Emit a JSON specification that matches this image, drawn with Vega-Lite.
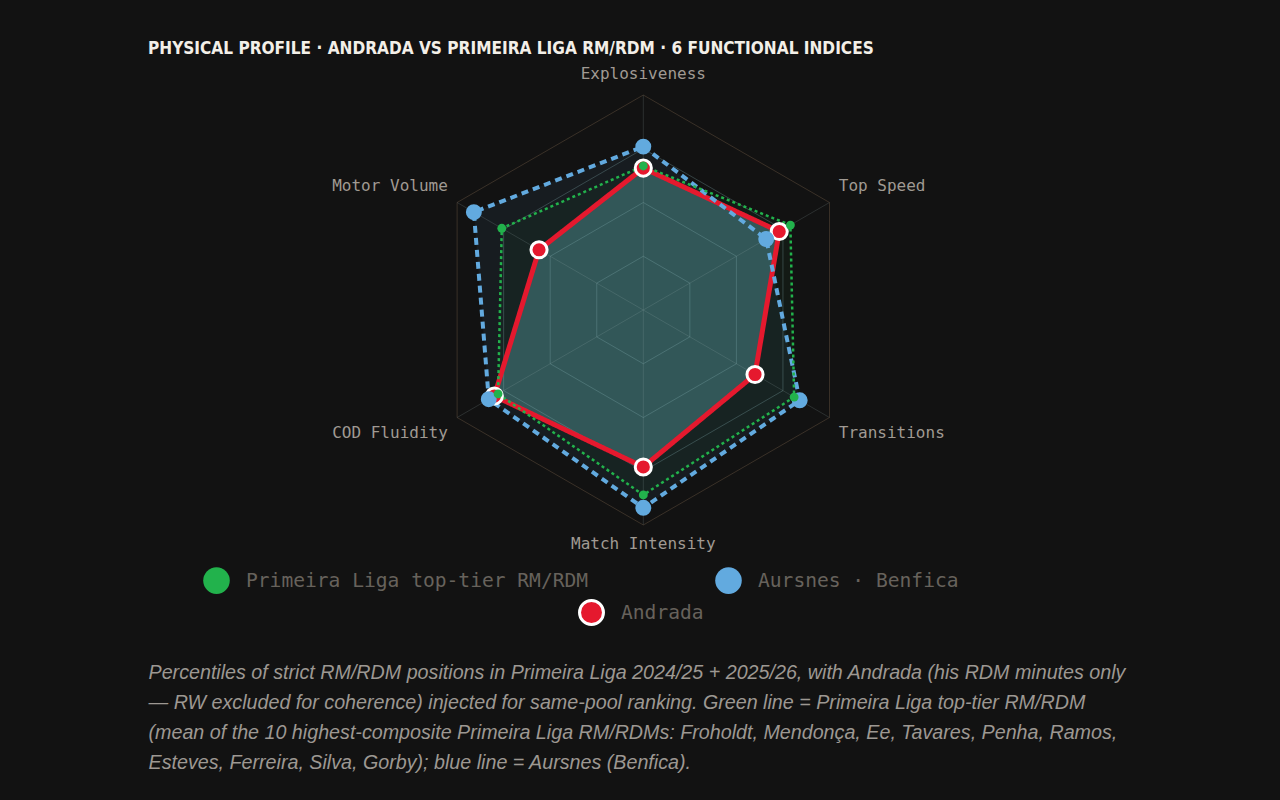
{
  "$schema": "https://vega.github.io/schema/vega-lite/v6.json",
  "width": 1280,
  "height": 800,
  "autosize": {"type": "none"},
  "padding": 0,
  "background": "#121212",
  "title": {
    "text": "PHYSICAL PROFILE · ANDRADA VS PRIMEIRA LIGA RM/RDM · 6 FUNCTIONAL INDICES",
    "anchor": "start",
    "frame": "group",
    "orient": "top",
    "offset": 0,
    "dx": 148,
    "dy": 71,
    "baseline": "alphabetic",
    "font": "DejaVu Sans Condensed, DejaVu Sans",
    "fontWeight": "bold",
    "fontSize": 17.1,
    "color": "#f3efe8"
  },
  "datasets": {
    "scores": [
      {"series": "Andrada", "axis": "Explosiveness", "i": 0, "value": 66},
      {"series": "Andrada", "axis": "Top Speed", "i": 1, "value": 73},
      {"series": "Andrada", "axis": "Transitions", "i": 2, "value": 60},
      {"series": "Andrada", "axis": "Match Intensity", "i": 3, "value": 73},
      {"series": "Andrada", "axis": "COD Fluidity", "i": 4, "value": 80},
      {"series": "Andrada", "axis": "Motor Volume", "i": 5, "value": 56},
      {"series": "Aursnes · Benfica", "axis": "Explosiveness", "i": 0, "value": 76},
      {"series": "Aursnes · Benfica", "axis": "Top Speed", "i": 1, "value": 66},
      {"series": "Aursnes · Benfica", "axis": "Transitions", "i": 2, "value": 84},
      {"series": "Aursnes · Benfica", "axis": "Match Intensity", "i": 3, "value": 92},
      {"series": "Aursnes · Benfica", "axis": "COD Fluidity", "i": 4, "value": 83},
      {"series": "Aursnes · Benfica", "axis": "Motor Volume", "i": 5, "value": 91},
      {"series": "Primeira Liga top-tier RM/RDM", "axis": "Explosiveness", "i": 0, "value": 67},
      {"series": "Primeira Liga top-tier RM/RDM", "axis": "Top Speed", "i": 1, "value": 79},
      {"series": "Primeira Liga top-tier RM/RDM", "axis": "Transitions", "i": 2, "value": 81},
      {"series": "Primeira Liga top-tier RM/RDM", "axis": "Match Intensity", "i": 3, "value": 86},
      {"series": "Primeira Liga top-tier RM/RDM", "axis": "COD Fluidity", "i": 4, "value": 78},
      {"series": "Primeira Liga top-tier RM/RDM", "axis": "Motor Volume", "i": 5, "value": 76}
    ],
    "axes": [
      {"axis": "Explosiveness", "i": 0},
      {"axis": "Top Speed", "i": 1},
      {"axis": "Transitions", "i": 2},
      {"axis": "Match Intensity", "i": 3},
      {"axis": "COD Fluidity", "i": 4},
      {"axis": "Motor Volume", "i": 5}
    ],
    "grid": [
      {"level": 25, "i": [0, 1, 2, 3, 4, 5]},
      {"level": 50, "i": [0, 1, 2, 3, 4, 5]},
      {"level": 75, "i": [0, 1, 2, 3, 4, 5]},
      {"level": 100, "i": [0, 1, 2, 3, 4, 5]}
    ]
  },
  "encoding": {
    "x": {
      "field": "x",
      "type": "quantitative",
      "scale": {"domain": [-299.21, 296.14], "nice": false, "zero": false},
      "axis": {
        "orient": "top",
        "labels": false,
        "ticks": false,
        "domain": false,
        "grid": false,
        "title": [
          "Percentiles of strict RM/RDM positions in Primeira Liga 2024/25 + 2025/26, with Andrada (his RDM minutes only",
          "— RW excluded for coherence) injected for same-pool ranking. Green line = Primeira Liga top-tier RM/RDM",
          "(mean of the 10 highest-composite Primeira Liga RM/RDMs: Froholdt, Mendonça, Ee, Tavares, Penha, Ramos,",
          "Esteves, Ferreira, Silva, Gorby); blue line = Aursnes (Benfica)."
        ],
        "titleX": 148,
        "titleY": 662,
        "titleAlign": "left",
        "titleAnchor": null,
        "titleBaseline": "top",
        "titleAngle": 0,
        "titleFont": "Liberation Sans",
        "titleFontStyle": "italic",
        "titleFontWeight": "normal",
        "titleFontSize": 19.7,
        "titleColor": "#9d9892",
        "titleLineHeight": 30
      }
    },
    "y": {
      "field": "y",
      "type": "quantitative",
      "scale": {"domain": [-227.91, 144.19], "nice": false, "zero": false},
      "axis": null
    }
  },
  "layer": [
    {
      "data": {"name": "scores"},
      "transform": [
        {"filter": "datum.series === 'Aursnes · Benfica'"},
        {"calculate": "datum.value * sin(datum.i * PI / 3)", "as": "x"},
        {"calculate": "datum.value * cos(datum.i * PI / 3)", "as": "y"}
      ],
      "mark": {"type": "line", "interpolate": "linear-closed", "fill": "#62aadf", "fillOpacity": 0.07, "strokeWidth": 0},
      "encoding": {"order": {"field": "i", "type": "quantitative"}}
    },
    {
      "data": {"name": "scores"},
      "transform": [
        {"filter": "datum.series === 'Primeira Liga top-tier RM/RDM'"},
        {"calculate": "datum.value * sin(datum.i * PI / 3)", "as": "x"},
        {"calculate": "datum.value * cos(datum.i * PI / 3)", "as": "y"}
      ],
      "mark": {"type": "line", "interpolate": "linear-closed", "fill": "#22b24c", "fillOpacity": 0.05, "strokeWidth": 0},
      "encoding": {"order": {"field": "i", "type": "quantitative"}}
    },
    {
      "data": {"name": "scores"},
      "transform": [
        {"filter": "datum.series === 'Andrada'"},
        {"calculate": "datum.value * sin(datum.i * PI / 3)", "as": "x"},
        {"calculate": "datum.value * cos(datum.i * PI / 3)", "as": "y"}
      ],
      "mark": {"type": "line", "interpolate": "linear-closed", "fill": "#325758", "fillOpacity": 1, "strokeWidth": 0},
      "encoding": {"order": {"field": "i", "type": "quantitative"}}
    },
    {
      "data": {"name": "grid"},
      "transform": [
        {"flatten": ["i"]},
        {"calculate": "datum.level * sin(datum.i * PI / 3)", "as": "x"},
        {"calculate": "datum.level * cos(datum.i * PI / 3)", "as": "y"}
      ],
      "mark": {"type": "line", "interpolate": "linear-closed", "strokeWidth": 1},
      "encoding": {
        "detail": {"field": "level", "type": "nominal"},
        "order": {"field": "i", "type": "quantitative"},
        "stroke": {"condition": {"test": "datum.level == 100", "value": "#3a3128"}, "value": "#86aeb2"},
        "strokeOpacity": {"condition": {"test": "datum.level == 100", "value": 1}, "value": 0.3}
      }
    },
    {
      "data": {"name": "axes"},
      "transform": [
        {"calculate": "100 * sin(datum.i * PI / 3)", "as": "x"},
        {"calculate": "100 * cos(datum.i * PI / 3)", "as": "y"}
      ],
      "mark": {"type": "rule", "stroke": "#9fb6b8", "strokeOpacity": 0.18, "strokeWidth": 1},
      "encoding": {
        "x2": {"datum": 0},
        "y2": {"datum": 0}
      }
    },
    {
      "data": {"name": "scores"},
      "transform": [
        {"calculate": "datum.value * sin(datum.i * PI / 3)", "as": "x"},
        {"calculate": "datum.value * cos(datum.i * PI / 3)", "as": "y"}
      ],
      "mark": {"type": "line", "interpolate": "linear-closed"},
      "encoding": {
        "order": {"field": "i", "type": "quantitative"},
        "stroke": {
          "field": "series",
          "type": "nominal",
          "scale": {
            "domain": ["Primeira Liga top-tier RM/RDM", "Aursnes · Benfica", "Andrada"],
            "range": ["#22b24c", "#62aadf", "#e5192e"]
          },
          "legend": {
            "values": ["Primeira Liga top-tier RM/RDM", "Aursnes · Benfica"],
            "orient": "none",
            "legendX": 203,
            "legendY": 567,
            "direction": "horizontal",
            "title": null,
            "padding": 0,
            "symbolType": "circle",
            "symbolSize": 707,
            "symbolStrokeWidth": 0,
            "symbolOpacity": 1,
            "columnPadding": 126,
            "labelOffset": 16,
            "labelFont": "DejaVu Sans Mono",
            "labelFontSize": 19.6,
            "labelColor": "#67625c",
            "labelLimit": 500,
            "encode": {
              "symbols": {
                "update": {
                  "fill": {"scale": "stroke", "field": "value"},
                  "fillOpacity": {"value": 1},
                  "strokeWidth": {"value": 0},
                  "strokeDash": {"value": [1, 0]}
                }
              }
            }
          }
        },
        "strokeWidth": {
          "condition": [
            {"test": "datum.series === 'Andrada'", "value": 5},
            {"test": "datum.series === 'Primeira Liga top-tier RM/RDM'", "value": 2.5}
          ],
          "value": 4
        },
        "strokeDash": {
          "condition": [
            {"test": "datum.series === 'Andrada'", "value": [1, 0]},
            {"test": "datum.series === 'Primeira Liga top-tier RM/RDM'", "value": [3, 3]}
          ],
          "value": [7, 5]
        }
      }
    },
    {
      "data": {"name": "scores"},
      "transform": [
        {"filter": "datum.series === 'Andrada'"},
        {"calculate": "datum.value * sin(datum.i * PI / 3)", "as": "x"},
        {"calculate": "datum.value * cos(datum.i * PI / 3)", "as": "y"}
      ],
      "mark": {"type": "circle", "size": 260, "opacity": 1, "stroke": "#ffffff", "strokeWidth": 3},
      "encoding": {
        "fill": {
          "field": "series",
          "type": "nominal",
          "scale": {
            "domain": ["Andrada", "Primeira Liga top-tier RM/RDM", "Aursnes · Benfica"],
            "range": ["#e5192e", "#22b24c", "#62aadf"]
          },
          "legend": {
            "values": ["Andrada"],
            "orient": "none",
            "legendX": 578,
            "legendY": 599,
            "direction": "horizontal",
            "title": null,
            "padding": 0,
            "symbolType": "circle",
            "symbolSize": 573,
            "symbolStrokeColor": "#ffffff",
            "symbolStrokeWidth": 3,
            "symbolOpacity": 1,
            "labelOffset": 16,
            "labelFont": "DejaVu Sans Mono",
            "labelFontSize": 19.6,
            "labelColor": "#67625c"
          }
        }
      }
    },
    {
      "data": {"name": "scores"},
      "transform": [
        {"filter": "datum.series === 'Aursnes · Benfica'"},
        {"calculate": "datum.value * sin(datum.i * PI / 3)", "as": "x"},
        {"calculate": "datum.value * cos(datum.i * PI / 3)", "as": "y"}
      ],
      "mark": {"type": "circle", "size": 254, "opacity": 1},
      "encoding": {"fill": {"field": "series", "type": "nominal"}}
    },
    {
      "data": {"name": "scores"},
      "transform": [
        {"filter": "datum.series === 'Primeira Liga top-tier RM/RDM'"},
        {"calculate": "datum.value * sin(datum.i * PI / 3)", "as": "x"},
        {"calculate": "datum.value * cos(datum.i * PI / 3)", "as": "y"}
      ],
      "mark": {"type": "circle", "size": 79, "opacity": 1},
      "encoding": {"fill": {"field": "series", "type": "nominal"}}
    },
    {
      "data": {"name": "axes"},
      "transform": [
        {"filter": "datum.i == 0 || datum.i == 3"},
        {"calculate": "105 * sin(datum.i * PI / 3)", "as": "x"},
        {"calculate": "105 * cos(datum.i * PI / 3) + (cos(datum.i * PI / 3) > 0 ? 5 : -4)", "as": "y"}
      ],
      "mark": {"type": "text", "align": "center", "baseline": "middle", "font": "DejaVu Sans Mono", "fontSize": 16, "color": "#a09a93"},
      "encoding": {"text": {"field": "axis"}}
    },
    {
      "data": {"name": "axes"},
      "transform": [
        {"filter": "datum.i == 1 || datum.i == 2"},
        {"calculate": "105 * sin(datum.i * PI / 3)", "as": "x"},
        {"calculate": "105 * cos(datum.i * PI / 3) + (cos(datum.i * PI / 3) > 0 ? 5 : -4.5)", "as": "y"}
      ],
      "mark": {"type": "text", "align": "left", "baseline": "middle", "font": "DejaVu Sans Mono", "fontSize": 16, "color": "#a09a93"},
      "encoding": {"text": {"field": "axis"}}
    },
    {
      "data": {"name": "axes"},
      "transform": [
        {"filter": "datum.i == 4 || datum.i == 5"},
        {"calculate": "105 * sin(datum.i * PI / 3)", "as": "x"},
        {"calculate": "105 * cos(datum.i * PI / 3) + (cos(datum.i * PI / 3) > 0 ? 5 : -4.5)", "as": "y"}
      ],
      "mark": {"type": "text", "align": "right", "baseline": "middle", "font": "DejaVu Sans Mono", "fontSize": 16, "color": "#a09a93"},
      "encoding": {"text": {"field": "axis"}}
    }
  ],
  "config": {
    "view": {"stroke": null}
  }
}
